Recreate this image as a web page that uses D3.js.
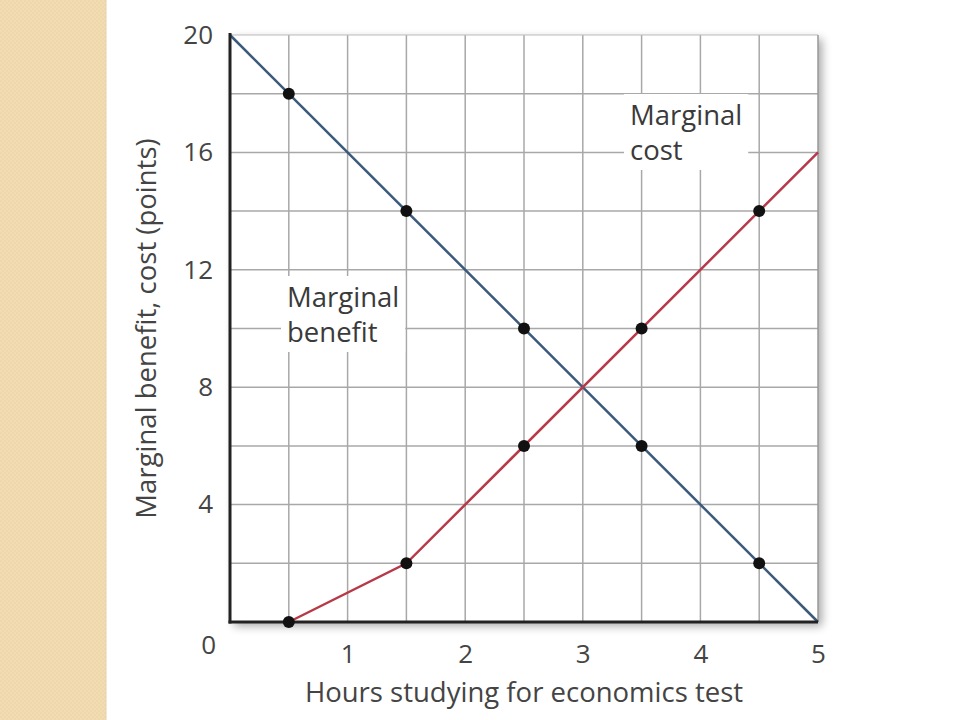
<!DOCTYPE html>
<html><head><meta charset="utf-8">
<script src="https://cdn.jsdelivr.net/npm/d3@7"></script>
<style>
html,body{margin:0;padding:0;background:#fff;}
svg{display:block;}
text{font-family:"Open Sans","Noto Sans",sans-serif;}
</style></head>
<body>
<svg id="chart" width="960" height="720"></svg>
<script>
// ---- data ----
const xTicks = [0, 1, 2, 3, 4, 5];
const yTicks = [0, 4, 8, 12, 16, 20];
const benefitHours = [0.5, 1.5, 2.5, 3.5, 4.5];
const benefitValues = [18, 14, 10, 6, 2];
const costHours = [0.5, 1.5, 2.5, 3.5, 4.5];
const costValues = [0, 2, 6, 10, 14];
const benefitLineX = [0, 5];
const benefitLineY = [20, 0];
const costLineX = [0.5, 1.5, 5];
const costLineY = [0, 2, 16];
const xTitle = "Hours studying for economics test";
const yTitle = "Marginal benefit, cost (points)";

const svg = d3.select("#chart");
const W = 960, H = 720;
const m = {left: 230, right: 142, top: 35, bottom: 98};

// beige strip
const defs = svg.append("defs");
const pat = defs.append("pattern").attr("id","dots").attr("width",4).attr("height",4).attr("patternUnits","userSpaceOnUse");
pat.append("rect").attr("width",4).attr("height",4).attr("fill","#f2ddb3");
pat.append("rect").attr("width",2).attr("height",2).attr("fill","#eed7aa");
pat.append("rect").attr("x",2).attr("y",2).attr("width",2).attr("height",2).attr("fill","#eed7aa");
svg.append("rect").attr("x",0).attr("y",0).attr("width",106).attr("height",H).attr("fill","url(#dots)");
svg.append("line").attr("x1",106).attr("x2",106).attr("y1",0).attr("y2",H).attr("stroke","#e6d2a8").attr("stroke-width",1);

const x = d3.scaleLinear().domain([0,5]).range([m.left, W - m.right]);
const y = d3.scaleLinear().domain([0,20]).range([H - m.bottom, m.top]);

// shadow on right and bottom
const shadow = defs.append("filter").attr("id","sh").attr("x","-10%").attr("y","-10%").attr("width","130%").attr("height","130%");
shadow.append("feGaussianBlur").attr("in","SourceAlpha").attr("stdDeviation",5);
shadow.append("feOffset").attr("dx",4).attr("dy",4).attr("result","b");
const fm = shadow.append("feComponentTransfer"); fm.append("feFuncA").attr("type","linear").attr("slope",0.35);
const mg = shadow.append("feMerge"); mg.append("feMergeNode"); mg.append("feMergeNode").attr("in","SourceGraphic");

svg.append("rect").attr("x",x(0)).attr("y",y(20)).attr("width",x(5)-x(0)).attr("height",y(0)-y(20))
  .attr("fill","#fff").attr("filter","url(#sh)");

// grid
const gx = d3.range(0.5, 5, 0.5);
const gy = d3.range(2, 20, 2);
const grid = svg.append("g");
grid.selectAll(".vx").data(gx).join("line")
  .attr("x1",d=>x(d)).attr("x2",d=>x(d)).attr("y1",y(0)).attr("y2",y(20))
  .attr("stroke","#a8a8a8").attr("stroke-width",1.5);
grid.selectAll(".hy").data(gy).join("line")
  .attr("x1",x(0)).attr("x2",x(5)).attr("y1",d=>y(d)).attr("y2",d=>y(d))
  .attr("stroke","#a8a8a8").attr("stroke-width",1.5);
// top and right frame
svg.append("line").attr("x1",x(0)).attr("x2",x(5)).attr("y1",y(20)).attr("y2",y(20)).attr("stroke","#bbb").attr("stroke-width",1);
svg.append("line").attr("x1",x(5)).attr("x2",x(5)).attr("y1",y(20)).attr("y2",y(0)).attr("stroke","#999").attr("stroke-width",1.5);

// labels with white halo
function label(lines, lx, ly){
  const t = svg.append("text").attr("x",lx).attr("y",ly).attr("font-size",27.5).attr("fill","#3a3a3a");
  lines.forEach((s,i)=>{
    t.append("tspan").attr("x",lx).attr("dy", i===0?0:35).text(s);
  });
  const bb = t.node().getBBox();
  svg.insert("rect", function(){return t.node();}).attr("x",bb.x-6).attr("y",bb.y-2).attr("width",bb.width+12).attr("height",bb.height+4).attr("fill","#fff");
}
label(["Marginal","benefit"], 287, 307);
label(["Marginal","cost"], 630, 125);

// lines
const line = d3.line().x(d=>x(d[0])).y(d=>y(d[1]));
svg.append("path").datum(d3.zip(benefitLineX, benefitLineY)).attr("d",line)
  .attr("fill","none").attr("stroke","#3c5a7c").attr("stroke-width",2.5);
svg.append("path").datum(d3.zip(costLineX, costLineY)).attr("d",line)
  .attr("fill","none").attr("stroke","#b83a48").attr("stroke-width",2.5);

// axes frame (left and bottom)
svg.append("line").attr("x1",x(0)).attr("x2",x(0)).attr("y1",y(20)-2).attr("y2",y(0)+1.5).attr("stroke","#222").attr("stroke-width",3);
svg.append("line").attr("x1",x(0)-1.5).attr("x2",x(5)).attr("y1",y(0)).attr("y2",y(0)).attr("stroke","#222").attr("stroke-width",3);

// points
svg.selectAll(".pb").data(d3.zip(benefitHours, benefitValues)).join("circle")
  .attr("cx",d=>x(d[0])).attr("cy",d=>y(d[1])).attr("r",6).attr("fill","#111");
svg.selectAll(".pc").data(d3.zip(costHours, costValues)).join("circle")
  .attr("cx",d=>x(d[0])).attr("cy",d=>y(d[1])).attr("r",6).attr("fill","#111");

// axes via d3
const xa = svg.append("g").attr("transform",`translate(0,${y(0)})`)
  .call(d3.axisBottom(x).tickValues(xTicks.filter(d=>d>0)).tickSize(0).tickPadding(23).tickFormat(d3.format("d")));
xa.select(".domain").remove();
xa.selectAll("text").attr("font-size",26).attr("fill","#444").attr("font-family","Open Sans, sans-serif");

const ya = svg.append("g").attr("transform",`translate(${x(0)},0)`)
  .call(d3.axisLeft(y).tickValues(yTicks.filter(d=>d>0)).tickSize(0).tickPadding(17).tickFormat(d3.format("d")));
ya.select(".domain").remove();
ya.selectAll("text").attr("font-size",26).attr("fill","#444").attr("font-family","Open Sans, sans-serif");

// origin zero
svg.append("text").attr("x",x(0)-14).attr("y",y(0)+32).attr("text-anchor","end")
  .attr("font-size",26).attr("fill","#444").text(yTicks[0]);

// titles
svg.append("text").attr("x",(x(0)+x(5))/2).attr("y",702).attr("text-anchor","middle")
  .attr("font-size",27.5).attr("fill","#444").text(xTitle);
svg.append("text").attr("transform",`translate(156,${(y(0)+y(20))/2}) rotate(-90)`).attr("text-anchor","middle")
  .attr("font-size",27.5).attr("fill","#444").text(yTitle);
</script>
</body></html>
